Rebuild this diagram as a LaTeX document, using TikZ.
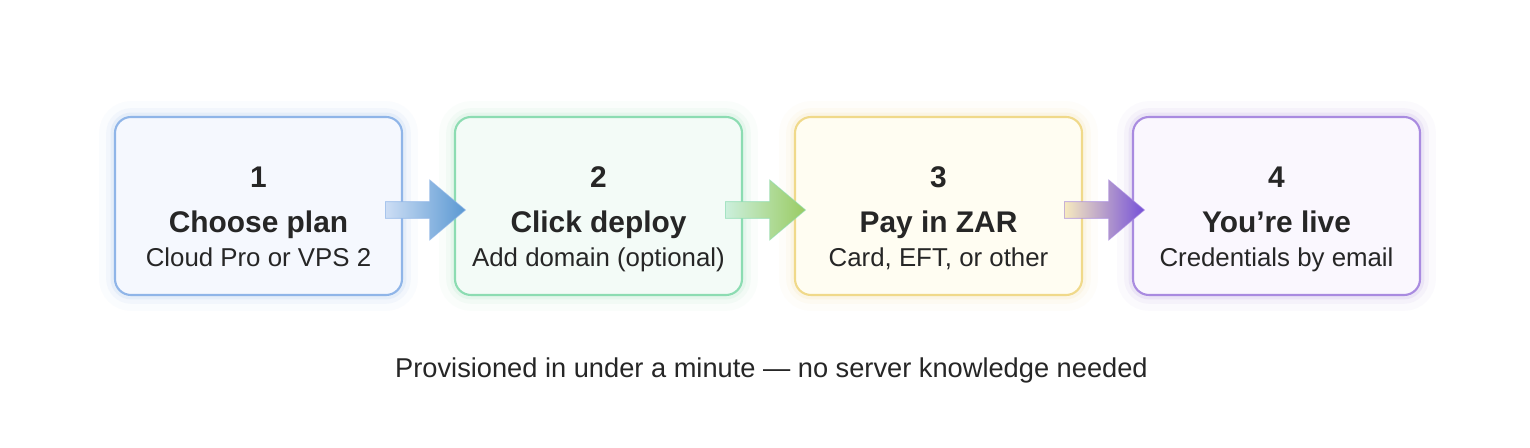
\documentclass[tikz,border=0pt]{standalone}
\usepackage{fontspec}
\setmainfont{Liberation Sans}
\usetikzlibrary{shapes.arrows,calc}
\definecolor{ink}{HTML}{262626}
\definecolor{blueline}{HTML}{8FB5E8}
\definecolor{bluefill}{HTML}{F5F8FE}
\definecolor{bluetip}{HTML}{5A98D2}
\definecolor{greenline}{HTML}{8CDCB2}
\definecolor{greenfill}{HTML}{F3FBF7}
\definecolor{greentip}{HTML}{9ACB62}
\definecolor{goldline}{HTML}{F0D98A}
\definecolor{goldfill}{HTML}{FFFDF2}
\definecolor{purpleline}{HTML}{A98BE0}
\definecolor{purplefill}{HTML}{FAF7FE}
\definecolor{purpletip}{HTML}{7550D8}

\begin{document}
\begin{tikzpicture}[
  stepcard/.style={rounded corners=3.2mm, minimum width=5.74cm, minimum height=3.56cm,
                   line width=1.2pt, inner sep=0pt},
  glow/.style={preaction={draw=#1, draw opacity=0.04, line width=18pt},
               preaction={draw=#1, draw opacity=0.07, line width=10pt},
               preaction={draw=#1, draw opacity=0.12, line width=5pt}},
  stepnum/.style={font=\bfseries\fontsize{17}{20}\selectfont, text=ink, anchor=base},
  steptitle/.style={stepnum},
  stepsub/.style={font=\fontsize{14.7}{17}\selectfont, text=ink, anchor=base},
  flowarrow/.style={single arrow, minimum height=1.6cm, minimum width=1.2cm,
                    single arrow head extend=0.36cm, single arrow tip angle=80,
                    inner xsep=0pt, inner ysep=0.13cm, line width=0.5pt, draw opacity=0.6},
  note/.style={font=\fontsize{15.5}{18}\selectfont, text=ink, anchor=base}
]
\useasboundingbox (0,0) rectangle (30.6,8.96);
\fill[white] (0,0) rectangle (30.6,8.96);

% step cards
\node[stepcard, draw=blueline, fill=bluefill, glow=blueline] (s1) at (5.17,4.84) {};
\node[stepcard, draw=greenline, fill=greenfill, glow=greenline] (s2) at (11.97,4.84) {};
\node[stepcard, draw=goldline, fill=goldfill, glow=goldline] (s3) at (18.77,4.84) {};
\node[stepcard, draw=purpleline, fill=purplefill, glow=purpleline] (s4) at (25.53,4.84) {};

% card texts
\node[stepnum] (n1) at ($(s1)+(0,0.36)$) {1};
\node[steptitle] (t1) at ($(s1)+(0,-0.53)$) {Choose plan};
\node[stepsub] (d1) at ($(s1)+(0,-1.21)$) {Cloud Pro or VPS 2};

\node[stepnum] (n2) at ($(s2)+(0,0.36)$) {2};
\node[steptitle] (t2) at ($(s2)+(0,-0.53)$) {Click deploy};
\node[stepsub] (d2) at ($(s2)+(0,-1.21)$) {Add domain (optional)};

\node[stepnum] (n3) at ($(s3)+(0,0.36)$) {3};
\node[steptitle] (t3) at ($(s3)+(0,-0.53)$) {Pay in ZAR};
\node[stepsub] (d3) at ($(s3)+(0,-1.21)$) {Card, EFT, or other};

\node[stepnum] (n4) at ($(s4)+(0,0.36)$) {4};
\node[steptitle] (t4) at ($(s4)+(0,-0.53)$) {You're live};
\node[stepsub] (d4) at ($(s4)+(0,-1.21)$) {Credentials by email};

% arrows between cards
\node[flowarrow, draw=blueline, left color=blueline!45, right color=bluetip]
  (a12) at ($(s1.east)!0.5!(s2.west)+(-0.16,-0.08)$) {};
\node[flowarrow, draw=greenline, left color=greenline!45, right color=greentip]
  (a23) at ($(s2.east)!0.5!(s3.west)+(-0.16,-0.08)$) {};
\node[flowarrow, draw=purpleline, left color=goldline!55, right color=purpletip]
  (a34) at ($(s3.east)!0.5!(s4.west)+(-0.16,-0.08)$) {};

% footer
\node[note] (foot) at (15.43,1.41) {Provisioned in under a minute — no server knowledge needed};

\end{tikzpicture}
\end{document}
